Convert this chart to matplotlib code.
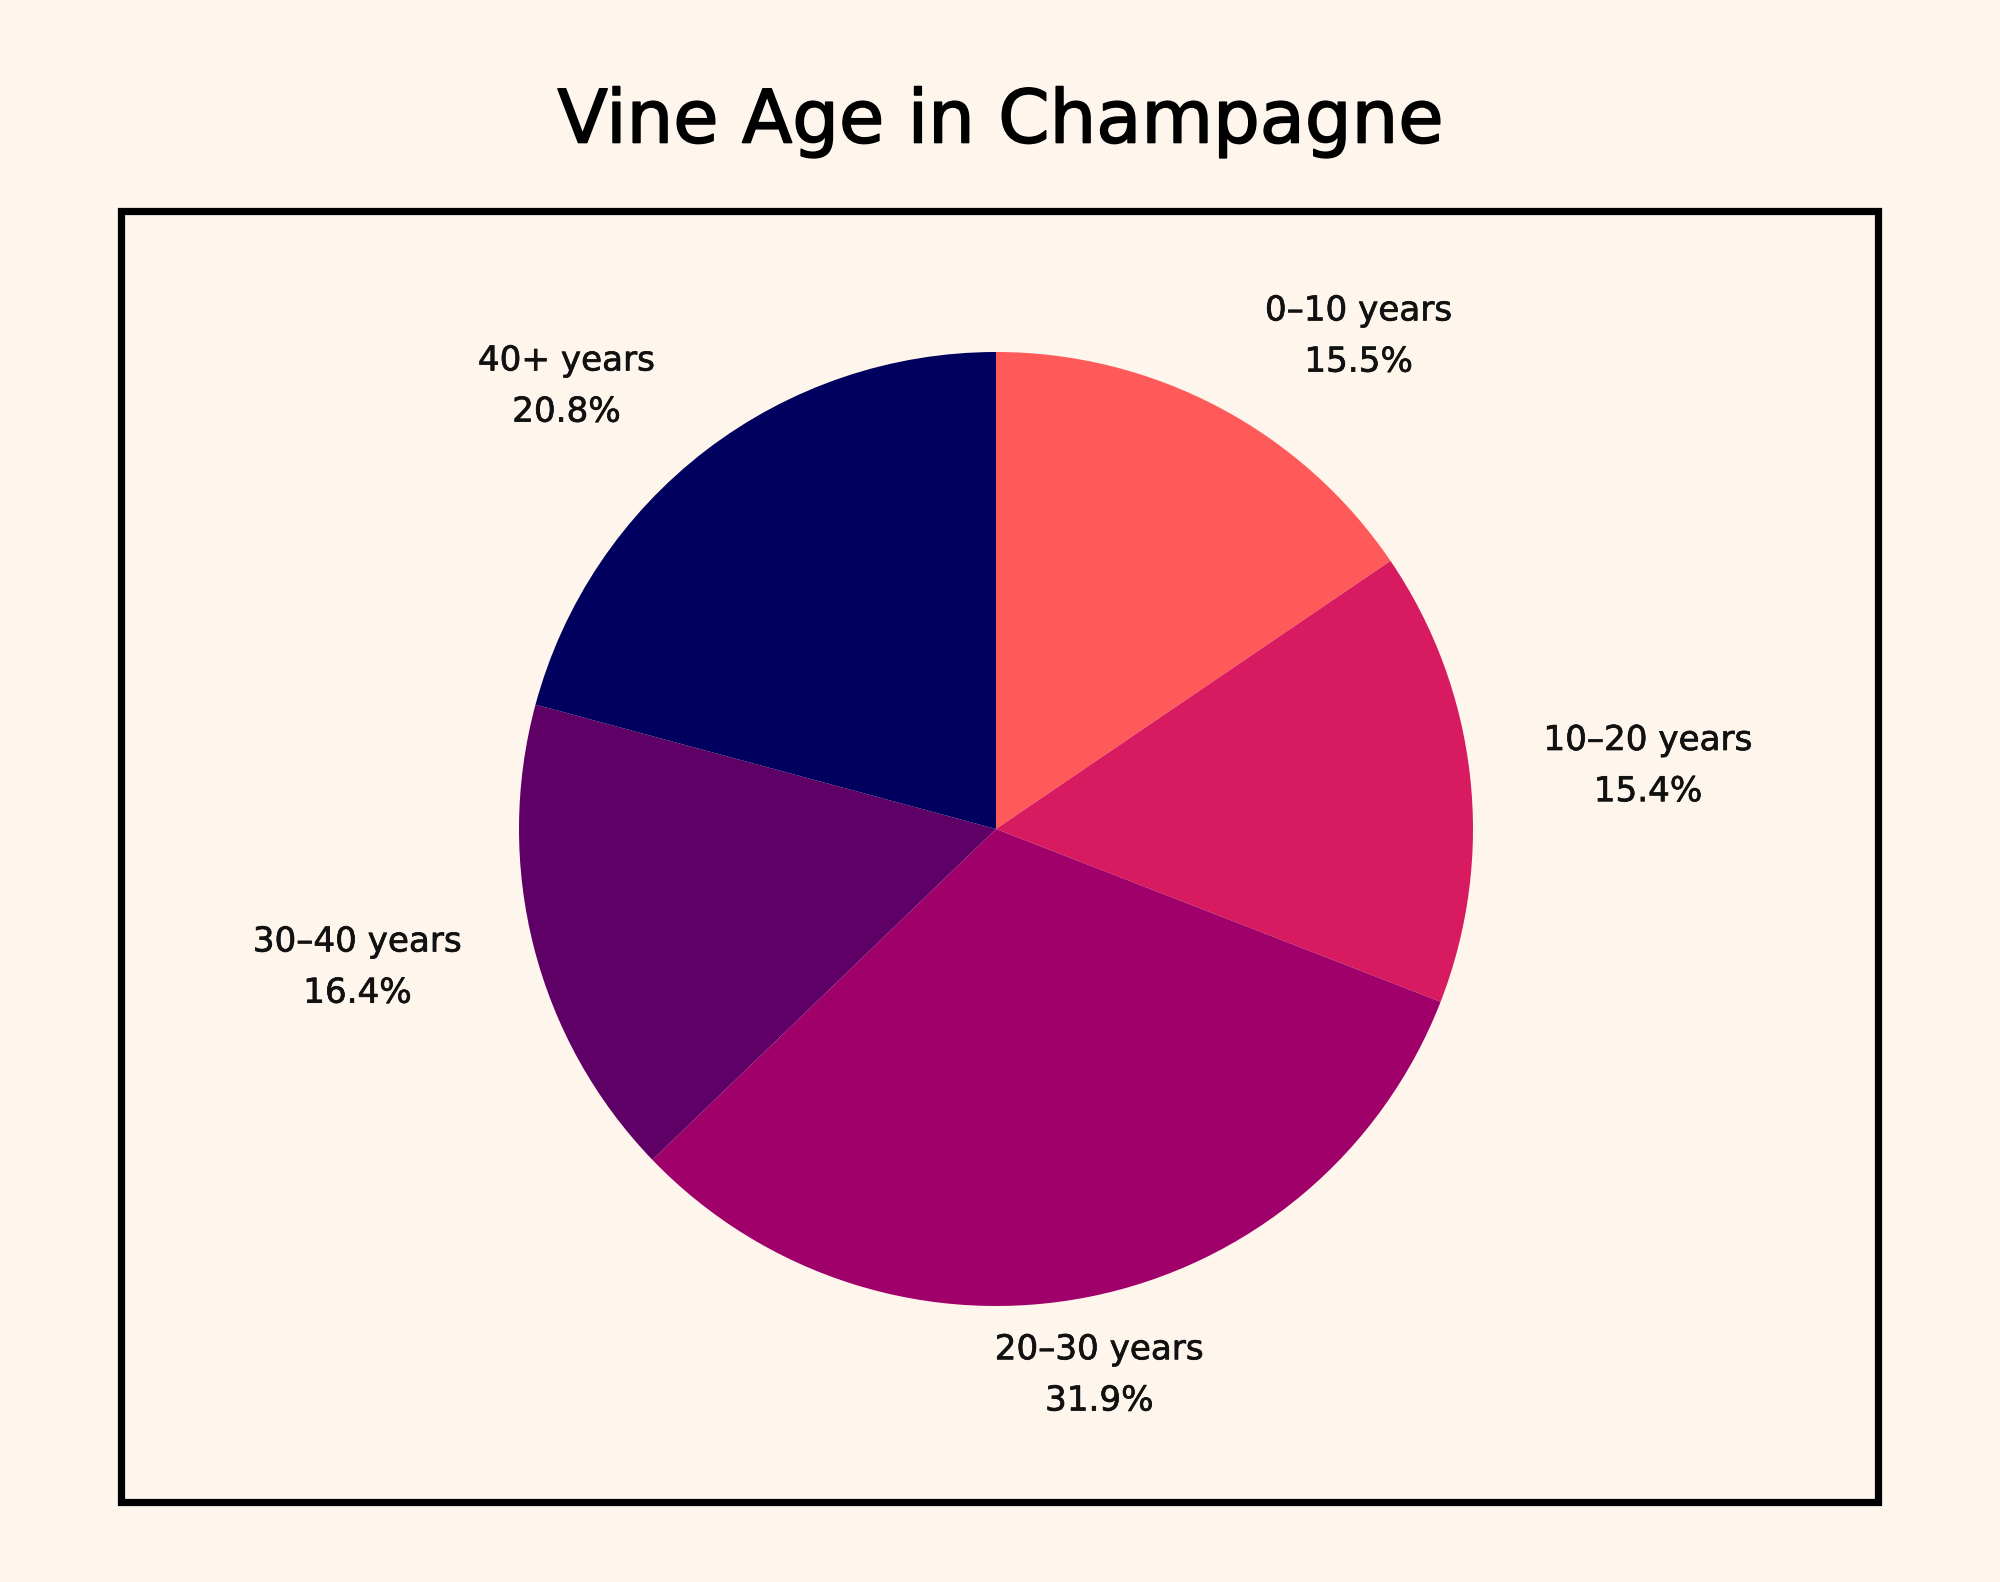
import matplotlib.pyplot as plt
import matplotlib.patheffects as pe
import numpy as np
from matplotlib.patches import Rectangle

categories = ["0–10 years", "10–20 years", "20–30 years", "30–40 years", "40+ years"]
shares = [15.5, 15.4, 31.9, 16.4, 20.8]
colors = ["#FF5A5A", "#D81B60", "#A0006A", "#5F0066", "#00005E"]

BG = "#FEF6EC"
W, H = 2000, 1582
plt.rcParams["font.family"] = ["DejaVu Sans"]

fig = plt.figure(figsize=(W / 200, H / 200), dpi=200, facecolor=BG)
ax = fig.add_axes([0, 0, 1, 1])

# pixel-space layout (y measured from top in the reference)
cx, cy, r = 996, H - 829, 477

wedges, _ = ax.pie(shares, colors=colors, startangle=90, counterclock=False,
                   radius=r, center=(cx, cy), frame=True,
                   wedgeprops=dict(linewidth=0))
ax.set_xlim(0, W)
ax.set_ylim(0, H)
ax.set_aspect("equal")
ax.axis("off")

renderer = fig.canvas.get_renderer()
for w, cat, s in zip(wedges, categories, shares):
    theta = np.deg2rad((w.theta1 + w.theta2) / 2)
    c, sn = np.cos(theta), np.sin(theta)
    t = ax.text(0, 0, f"{cat}\n{s}%", ha="center", va="center",
                fontsize=12.3, linespacing=1.7, color="#111111",
                path_effects=[pe.withStroke(linewidth=0.25, foreground="#111111")])
    bb = t.get_window_extent(renderer)
    push = np.sign(c) * np.clip((abs(c) - 0.2) / 0.25, 0, 1) * 1.25
    x = cx + 1.1 * r * c + bb.width / 2 * push
    y = cy + 1.08 * r * sn + bb.height / 2 * sn
    t.set_position((x, y))

ax.add_patch(Rectangle((121, H - 1502), 1757, 1291, fill=False,
                       edgecolor="black", linewidth=2.6, zorder=5))

fig.text(0.5, 1 - 122 / H, "Vine Age in Champagne", ha="center", va="center",
         fontsize=26.5, color="black",
         path_effects=[pe.withStroke(linewidth=0.6, foreground="black")])

fig.savefig("out.png", dpi=200, facecolor=BG)
